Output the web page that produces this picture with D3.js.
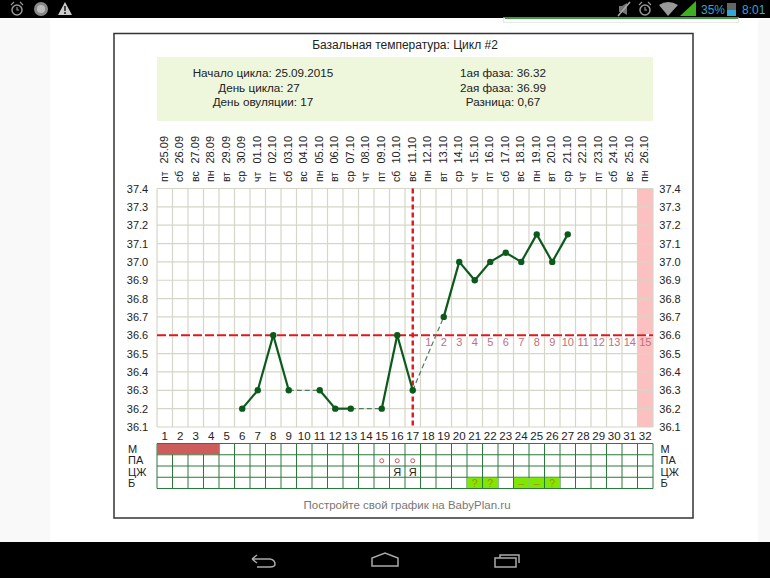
<!DOCTYPE html>
<html><head><meta charset="utf-8">
<script src="https://cdn.jsdelivr.net/npm/d3@7"></script>
<style>html,body{margin:0;padding:0;background:#fff}svg{display:block}text{font-family:"Liberation Sans",Arial,sans-serif;fill:#222}</style>
</head><body><svg id="c" width="770" height="578"></svg>
<script>
const dates=["25.09","26.09","27.09","28.09","29.09","30.09","01.10","02.10","03.10","04.10","05.10","06.10","07.10","08.10","09.10","10.10","11.10","12.10","13.10","14.10","15.10","16.10","17.10","18.10","19.10","20.10","21.10","22.10","23.10","24.10","25.10","26.10"];
const weekdays=["пт","сб","вс","пн","вт","ср","чт","пт","сб","вс","пн","вт","ср","чт","пт","сб","вс","пн","вт","ср","чт","пт","сб","вс","пн","вт","ср","чт","пт","сб","вс","пн"];
const days=d3.range(1,33);
const temps=[[6,36.2],[7,36.3],[8,36.6],[9,36.3],[11,36.3],[12,36.2],[13,36.2],[15,36.2],[16,36.6],[17,36.3],[19,36.7],[20,37.0],[21,36.9],[22,37.0],[23,37.05],[24,37.0],[25,37.15],[26,37.0],[27,37.15]];
const yTicks=[36.1,36.2,36.3,36.4,36.5,36.6,36.7,36.8,36.9,37.0,37.1,37.2,37.3,37.4];
const coverline=36.6, ovulationDay=17, lastDay=32;
const rowNames=["М","ПА","ЦЖ","Б"];
const menses=[1,2,3,4];
const paMarks=[15,16,17];
const cmMarks=[16,17];
const bMarks=[[21,"?"],[22,"?"],[24,"–"],[25,"–"],[26,"?"]];
const infoLeft=["Начало цикла: 25.09.2015","День цикла: 27","День овуляции: 17"];
const infoRight=["1ая фаза: 36.32","2ая фаза: 36.99","Разница: 0,67"];

const svg=d3.select("#c");
const rect=(x,y,w,h,f,s)=>svg.append("rect").attr("x",x).attr("y",y).attr("width",w).attr("height",h).attr("fill",f||"none").attr("stroke",s||"none");
const txt=(x,y,t,size,anchor,fill)=>svg.append("text").attr("x",x).attr("y",y).attr("font-size",size).attr("text-anchor",anchor||"middle").style("fill",fill||"#222").text(t);

// device chrome
rect(0,19,50,523,"#f9f9f9");
rect(758,19,12,523,"#f9f9f9");
rect(0,0,770,18,"#000");
rect(0,542,770,36,"#000");
rect(503.5,18,235,4.5,"#fff","#e8e8e8");
rect(505,18,233,1,"#3f9a3f");
const ic=svg.append("g").attr("fill","none").attr("stroke","#999").attr("stroke-width",1.5);
[[17,10],[645,10]].forEach(([x,y])=>{
  ic.append("circle").attr("cx",x).attr("cy",y).attr("r",5);
  ic.append("path").attr("d",`M${x-6} 5L${x-3} 2M${x+6} 5L${x+3} 2M${x} 7V10H${x+2}`).attr("stroke-width",1.1);
});
svg.append("circle").attr("cx",41).attr("cy",9).attr("r",7).attr("fill","#888");
svg.append("circle").attr("cx",41).attr("cy",9).attr("r",4).attr("fill","#bbb");
svg.append("path").attr("d","M58 15L65 2L72 15Z").attr("fill","#ccc");
svg.append("path").attr("d","M65 6V11M65 12V14").attr("stroke","#222").attr("stroke-width",1.6);
svg.append("path").attr("d","M619 6H622L627 3V15L622 12H619Z").attr("fill","#777");
svg.append("path").attr("d","M618 16L630 2").attr("stroke","#aaa").attr("stroke-width",1.5);
svg.append("path").attr("d","M659 5Q668 -1 678 5L668 16Z").attr("fill","#999");
svg.append("path").attr("d","M680 16L696 1V16Z").attr("fill","#3fb01f");
txt(701,14,"35%",12,"start","#33a5d6");
rect(727,3,9,13,"#666");rect(727,10,9,6,"#33a5d6");
txt(742,14,"8:01",12,"start","#33a5d6");
const nav=svg.append("g").attr("fill","none").attr("stroke","#aaa").attr("stroke-width",1.5);
nav.append("path").attr("d","M252 559L257 555M252 559L257 563M252 559H270Q275 560 275 564Q275 567 270 567H257");
nav.append("path").attr("d","M372 566V558L385 553L398 558V566Z");
nav.append("path").attr("d","M495 558H516V567H495ZM500 558V555H519V563");

// frame
rect(114,33.5,579,484.5,"#fff","#333").attr("stroke-width",1.5);
txt(405,48.5,"Базальная температура: Цикл #2",12);

// info panel
rect(157,57,496,64,"#eef6dc");
infoLeft.forEach((t,i)=>txt([263,259,263][i],77+i*14.7,t,11.7));
infoRight.forEach((t,i)=>txt(503,77+i*14.7,t,11.7));

// scales
const x=d3.scaleBand().domain(days).range([157,653]);
const y=d3.scaleLinear().domain([36.1,37.4]).range([427,188.5]);
const cx=d=>x(d)+x.bandwidth()/2;

// header
days.forEach((d,i)=>{
  const px=cx(d)+3;
  svg.append("text").attr("transform",`translate(${px},182) rotate(-90)`).attr("font-size",10.5).text(weekdays[i]);
  svg.append("text").attr("transform",`translate(${px},163.5) rotate(-90)`).attr("font-size",11).text(dates[i]);
});

// plot
rect(x(lastDay),188.5,x.bandwidth(),238.5,"#fcc0c0");
const g=svg.append("g").attr("stroke","#d6d6c8").attr("stroke-width",1.2);
yTicks.forEach(t=>g.append("line").attr("x1",157).attr("x2",653).attr("y1",y(t)).attr("y2",y(t)));
days.concat([33]).forEach(d=>{const p=d===33?653:x(d);g.append("line").attr("x1",p).attr("x2",p).attr("y1",188.5).attr("y2",427);});
yTicks.forEach(t=>{
  txt(137.5,y(t)+4,t.toFixed(1),11);
  txt(670,y(t)+4,t.toFixed(1),11);
});
days.forEach(d=>txt(cx(d),440,d,11.5));

// post-ovulation day numbers
days.filter(d=>d>ovulationDay).forEach((d,i)=>txt(cx(d),y(coverline)+11,i+1,11,"middle","#c0707c"));

// coverline, ovulation
svg.append("line").attr("x1",157).attr("x2",653).attr("y1",y(coverline)).attr("y2",y(coverline)).attr("stroke","#fff").attr("stroke-width",2.6);
svg.append("line").attr("x1",157).attr("x2",653).attr("y1",y(coverline)).attr("y2",y(coverline)).attr("stroke","#e0181c").attr("stroke-width",2.2).attr("stroke-dasharray","9 3");
svg.append("line").attr("x1",cx(ovulationDay)).attr("x2",cx(ovulationDay)).attr("y1",188.5).attr("y2",427).attr("stroke","#e0181c").attr("stroke-width",2.4).attr("stroke-dasharray","5 3");

// temperature line
d3.pairs(temps).forEach(([a,b])=>{
  const gap=b[0]-a[0]>1;
  svg.append("line").attr("x1",cx(a[0])).attr("y1",y(a[1])).attr("x2",cx(b[0])).attr("y2",y(b[1]))
    .attr("stroke",gap?"#4f7f5f":"#0b5a1c").attr("stroke-width",gap?1.2:2.2).attr("stroke-dasharray",gap?"5 3":null);
});
svg.selectAll(".pt").data(temps).enter().append("circle").attr("class","pt")
  .attr("cx",d=>cx(d[0])).attr("cy",d=>y(d[1])).attr("r",3.2).attr("fill","#0b5a1c");

// table
const rows=d3.scaleBand().domain(rowNames).range([443.5,488.5]);
const tg=svg.append("g").attr("stroke","#2a7a3a").attr("stroke-width",1);
rowNames.concat(["end"]).forEach(r=>{const p=r==="end"?488.5:rows(r);tg.append("line").attr("x1",157).attr("x2",653).attr("y1",p).attr("y2",p);});
days.concat([33]).forEach(d=>{const p=d===33?653:x(d);tg.append("line").attr("x1",p).attr("x2",p).attr("y1",443.5).attr("y2",488.5);});
menses.forEach(d=>rect(x(d),rows("М")+.5,x.bandwidth()+.5,rows.bandwidth()-1,"#cd5c5c"));
bMarks.forEach(([d])=>rect(x(d)+.5,rows("Б")+.5,x.bandwidth()-1,rows.bandwidth()-1,"#7fe800"));
rowNames.forEach(r=>{
  txt(128,rows(r)+rows.bandwidth()/2+4,r,11,"start");
  txt(660.5,rows(r)+rows.bandwidth()/2+4,r,11,"start");
});
paMarks.forEach(d=>svg.append("circle").attr("cx",cx(d)).attr("cy",rows("ПА")+6).attr("r",2).attr("fill","none").attr("stroke","#c85a5a"));
cmMarks.forEach(d=>txt(cx(d),rows("ЦЖ")+10,"Я",11));
bMarks.forEach(([d,s])=>txt(cx(d),rows("Б")+9.5,s,10.5,"middle","#a89010"));

txt(407,509,"Постройте свой график на BabyPlan.ru",11.5,"middle","#777");
</script></body></html>
